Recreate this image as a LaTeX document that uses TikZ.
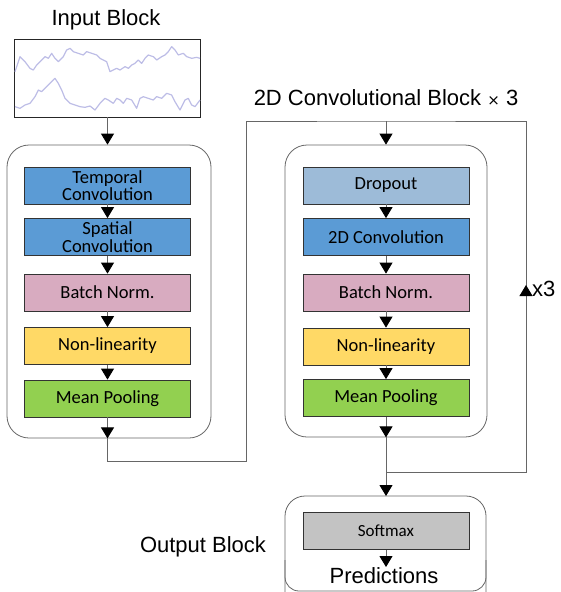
\documentclass[tikz,border=0pt]{standalone}
\usepackage{fontspec}
\setmainfont{Liberation Sans}
\newfontfamily\calfont{Carlito}
\usetikzlibrary{arrows.meta,positioning,calc}
\definecolor{cblue}{HTML}{5B9BD5}
\definecolor{cdrop}{HTML}{9DBBD8}
\definecolor{cpink}{HTML}{D8ABC0}
\definecolor{cyellow}{HTML}{FFD966}
\definecolor{cgreen}{HTML}{92D050}
\definecolor{cgray}{HTML}{C3C3C3}
\definecolor{cline}{HTML}{666666}
\definecolor{cwave}{HTML}{BDBDE6}
\tikzset{
  layer/.style={draw=black!80, line width=0.8pt, minimum width=166pt, minimum height=37pt, inner sep=0pt, align=center, font=\calfont\fontsize{18.5}{17.5}\selectfont},
  blockbox/.style={draw=black!60, line width=0.8pt, rounded corners=22pt, inner sep=0pt},
  title/.style={font=\fontsize{22}{24}\selectfont, inner sep=0pt},
  conn/.style={draw=cline, line width=0.9pt},
  arr/.style={conn, arrows={-Triangle[width=13pt,length=11pt,color=black]}},
}
\begin{document}
\begin{tikzpicture}[x=1pt,y=-1pt]
\useasboundingbox (0,0) rectangle (560,592);
% Input block
\node[title] (tin) at (106,20) {Input Block};
\node[draw=black!85, line width=0.8pt, minimum width=186pt, minimum height=78pt, inner sep=0pt] (inbox) at (107,78) {};
\begin{scope}[scale=1/3]
\draw[cwave, line width=1.2pt, line join=round] (45,215)--(60,170)--(75,185)--(90,205)--(100,210)--(110,195)--(125,180)--(135,170)--(145,175)--(155,160)--(165,175)--(175,185)--(190,170)--(200,150)--(210,145)--(220,155)--(235,160)--(250,165)--(260,155)--(275,160)--(290,165)--(300,175)--(320,185)--(330,215)--(340,210)--(350,205)--(360,210)--(375,200)--(385,205)--(395,195)--(405,190)--(415,180)--(425,190)--(435,175)--(445,165)--(460,170)--(470,180)--(485,170)--(495,165)--(505,155)--(515,140)--(525,150)--(535,165)--(550,160)--(560,170)--(575,175)--(590,172)--(600,175);
\draw[cwave, line width=1.2pt, line join=round] (45,320)--(60,325)--(75,315)--(90,310)--(105,290)--(115,270)--(125,275)--(140,260)--(155,245)--(165,235)--(175,250)--(185,270)--(195,295)--(210,310)--(225,315)--(240,320)--(255,322)--(270,318)--(285,330)--(300,310)--(315,295)--(325,300)--(340,310)--(350,295)--(360,300)--(370,310)--(380,295)--(395,300)--(410,325)--(420,295)--(430,290)--(445,295)--(460,300)--(470,290)--(485,295)--(500,280)--(515,285)--(525,305)--(540,330)--(555,300)--(565,295)--(575,315)--(585,320)--(600,300);
\end{scope}
% Left block
\node[blockbox, minimum width=204pt, minimum height=293pt] (lb) at (109,291.5) {};
\node[layer, fill=cblue] (l1) at (107.5,185.5) {Temporal\\Convolution};
\node[layer, fill=cblue] (l2) at (107.5,237) {Spatial\\Convolution};
\node[layer, fill=cpink] (l3) at (107.5,292.5) {Batch Norm.};
\node[layer, fill=cyellow] (l4) at (107.5,346) {Non-linearity};
\node[layer, fill=cgreen] (l5) at (107.5,398.5) {Mean Pooling};
\draw[arr] (inbox.south -| l1) -- (lb.north -| l1);
\draw[arr] (l1) -- (l2);
\draw[arr] (l2) -- (l3);
\draw[arr] (l3) -- (l4);
\draw[arr] (l4) -- (l5);
\draw[arr] (l5) -- (lb.south -| l5);
% Right block
\node[title] (tconv) at (386,98) {2D Convolutional Block {\fontspec{DejaVu Sans}\fontsize{15}{15}\selectfont ×} 3};
\node[blockbox, minimum width=202pt, minimum height=292pt] (rb) at (386,291) {};
\node[layer, fill=cdrop] (r1) at (386,185.5) {Dropout};
\node[layer, fill=cblue] (r2) at (386,237) {2D Convolution};
\node[layer, fill=cpink] (r3) at (386,292.5) {Batch Norm.};
\node[layer, fill=cyellow] (r4) at (386,346.5) {Non-linearity};
\node[layer, fill=cgreen] (r5) at (386,398) {Mean Pooling};
\draw[arr] (r1) -- (r2);
\draw[arr] (r2) -- (r3);
\draw[arr] (r3) -- (r4);
\draw[arr] (r4) -- (r5);
\draw[arr] (r5) -- (rb.south -| r5);
% Output block
\draw[draw=black!60, line width=0.8pt, rounded corners=20pt] (285,620) -- (285,496) -- (486,496) -- (486,620);
\draw[draw=black!60, line width=0.8pt, rounded corners=14pt] (285,560) -- (285,591) -- (486,591) -- (486,560);
\coordinate (ob) at (386,496);
\node[layer, fill=cgray, font=\calfont\fontsize{17}{17}\selectfont] (sm) at (386,531) {Softmax};
\node[title, anchor=north] (pred) at (384,567) {Predictions};
\node[title] (tout) at (203,547) {Output Block};
\draw[arr] (sm) -- (pred.north -| sm);
% connectors / loop
\coordinate (la) at (107.5,461);
\coordinate (lc) at (246,461);
\coordinate (ld) at (246,121);
\coordinate (top) at (386,121);
\coordinate (rt) at (526,121);
\coordinate (rbm) at (526,472);
\coordinate (mj) at (386,472);
\coordinate (up) at (526,285);
\draw[conn] (lb.south -| l5) -- (la) -- (lc) -- (ld) -- (top) -- (rt) -- (rbm) -- (mj);
\draw[arr] (top) -- (rb.north);
\draw[arr] (rb.south) -- (ob);
\draw[arr] ($(up)+(0,14)$) -- (up);
\node[title, anchor=west] (x3) at (532,289) {x3};
\end{tikzpicture}
\end{document}
